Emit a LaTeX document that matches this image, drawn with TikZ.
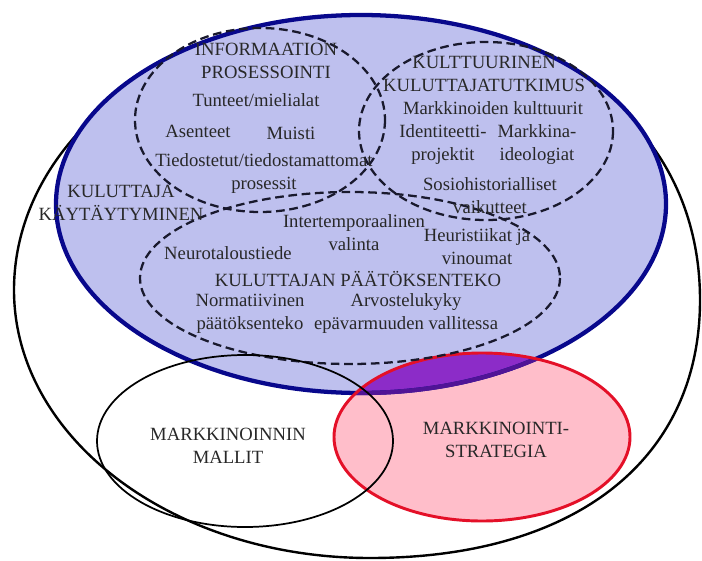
\documentclass[tikz,border=0pt]{standalone}
\usepackage{fontspec}
\setmainfont{Liberation Serif}

\definecolor{kkfill}{RGB}{190,192,238}
\definecolor{kkedge}{RGB}{8,8,140}
\definecolor{msfill}{RGB}{255,190,202}
\definecolor{msedge}{RGB}{228,16,40}
\definecolor{ovfill}{RGB}{140,44,200}
\definecolor{ovedge}{RGB}{80,20,150}
\definecolor{lbltext}{RGB}{40,40,40}
\definecolor{dashcol}{RGB}{25,25,45}

\begin{document}
\begin{tikzpicture}[x=0.75pt, y=-0.75pt,
  lbl/.style={font=\fontsize{14}{17.25}\selectfont, text=lbltext, align=center, inner sep=0pt},
  dashring/.style={draw=dashcol, line width=1.7pt, dash pattern=on 6.5pt off 3.5pt}]
  \useasboundingbox (0,0) rectangle (702,560);
  \draw[black, line width=1.8pt] (14,290) .. controls (14,438) and (173,558) .. (370,558)
    .. controls (575,558) and (700,460) .. (700,300)
    .. controls (700,132) and (563,20) .. (357,20)
    .. controls (168,20) and (14,141) .. (14,290) -- cycle;
  \fill[kkfill] (361,204) ellipse [x radius=305, y radius=189];
  \fill[msfill] (482,437) ellipse [x radius=148, y radius=84];
  \begin{scope}
    \clip (361,204) ellipse [x radius=305, y radius=189];
    \fill[ovfill] (482,437) ellipse [x radius=148, y radius=84];
  \end{scope}
  \draw[kkedge, line width=3.2pt] (361,204) ellipse [x radius=305, y radius=189];
  \begin{scope}
    \clip (482,437) ellipse [x radius=148, y radius=84];
    \draw[ovedge, line width=3.2pt] (361,204) ellipse [x radius=305, y radius=189];
  \end{scope}
  \draw[msedge, line width=2.2pt] (482,437) ellipse [x radius=148, y radius=84];
  \draw[dashring] (260,120) ellipse [x radius=125, y radius=92];
  \draw[dashring] (486,131) ellipse [x radius=127, y radius=89];
  \draw[dashring] (350,278) ellipse [x radius=210, y radius=86];
  \draw[black, line width=1.3pt] (245,441) ellipse [x radius=148, y radius=86];

  \node[lbl] (infoTitle) at (266,61) {INFORMAATION\\PROSESSOINTI};
  \node[lbl] (tunteet) at (256,100) {Tunteet/mielialat};
  \node[lbl] (asenteet) at (198,131) {Asenteet};
  \node[lbl] (muisti) at (291,133) {Muisti};
  \node[lbl] (tiedostetut) at (264,174) {Tiedostetut/tiedostamattomat\\prosessit};
  \node[lbl] (kayttaytyminen) at (121,203) {KULUTTAJA\\KÄYTÄYTYMINEN};
  \node[lbl] (kultTitle) at (484,74) {KULTTUURINEN\\KULUTTAJATUTKIMUS};
  \node[lbl] (markkKult) at (493,108) {Markkinoiden kulttuurit};
  \node[lbl] (identiteetti) at (443,145) {Identiteetti-\\projektit};
  \node[lbl] (ideologiat) at (537,145) {Markkina-\\ideologiat};
  \node[lbl] (sosiohist) at (490,196) {Sosiohistorialliset\\vaikutteet};
  \node[lbl] (intertemp) at (354,233) {Intertemporaalinen\\valinta};
  \node[lbl] (heuristiikat) at (477,247) {Heuristiikat ja\\vinoumat};
  \node[lbl] (neuro) at (228,253) {Neurotaloustiede};
  \node[lbl] (paatosTitle) at (358,279) {KULUTTAJAN PÄÄTÖKSENTEKO};
  \node[lbl] (normatiivinen) at (250,314) {Normatiivinen\\päätöksenteko};
  \node[lbl] (arvostelukyky) at (406,314) {Arvostelukyky\\epävarmuuden vallitessa};
  \node[lbl] (mallit) at (228,446) {MARKKINOINNIN\\MALLIT};
  \node[lbl] (strategia) at (496,440) {MARKKINOINTI-\\STRATEGIA};
\end{tikzpicture}
\end{document}
